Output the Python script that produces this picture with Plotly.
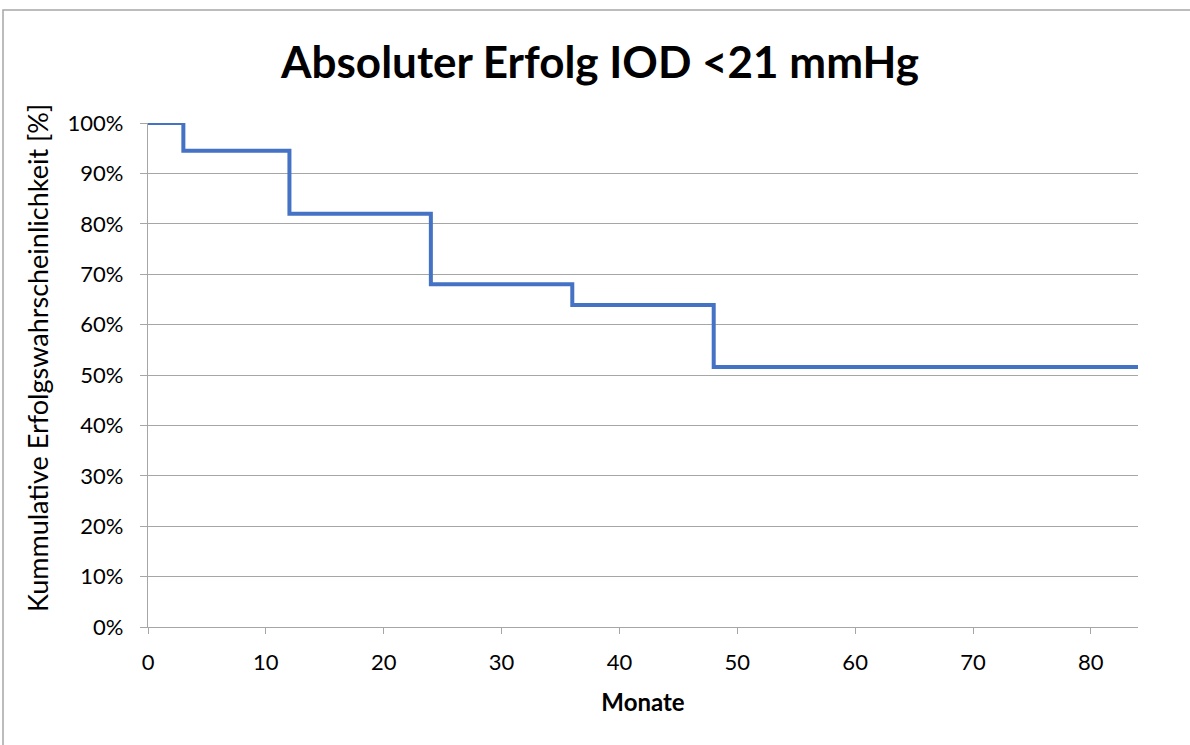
import plotly.graph_objects as go

# Kaplan-Meier style step curve: months vs. cumulative success probability
months = [0, 3, 12, 24, 36, 48, 84]
success = [1.00, 0.945, 0.82, 0.68, 0.639, 0.516, 0.516]

x_ticks = [0, 10, 20, 30, 40, 50, 60, 70, 80]
y_ticks = [0, 0.1, 0.2, 0.3, 0.4, 0.5, 0.6, 0.7, 0.8, 0.9, 1.0]
y_tick_text = [f"{int(round(v * 100))}%" for v in y_ticks]

W, H = 1190, 745
L, R, T, B = 148, 52, 123, 118
pw, ph = W - L - R, H - T - B

FONT = "Lato, Calibri, Carlito, sans-serif"
GRID = "#a6a6a6"


def px_x(p):
    return (p - L) / pw


def px_y(p):
    return (H - B - p) / ph


fig = go.Figure()
fig.add_trace(go.Scatter(
    x=months, y=success, mode="lines", line_shape="hv",
    line=dict(color="#4472c4", width=4), cliponaxis=False,
    hoverinfo="skip", showlegend=False,
))

fig.update_layout(
    width=W, height=H,
    margin=dict(l=L, r=R, t=T, b=B, autoexpand=False),
    paper_bgcolor="white", plot_bgcolor="white",
    font=dict(family=FONT, color="#000000", size=22),
    title=dict(
        text="<b>Absoluter Erfolg IOD &lt;21 mmHg</b>",
        x=(600 / W), xanchor="center", y=1 - 63 / H, yanchor="middle",
        font=dict(family=FONT, size=44, color="#000000"),
    ),
    xaxis=dict(
        range=[0, 84], tickvals=x_ticks, showgrid=False, zeroline=False,
        showline=True, linecolor=GRID, linewidth=1.3,
        ticks="outside", ticklen=6, tickcolor=GRID, tickwidth=1.3,
        tickfont=dict(size=22), ticklabelstandoff=9,
        title=dict(text="<b>Monate</b>", font=dict(size=24), standoff=20),
    ),
    yaxis=dict(
        range=[0, 1], tickvals=y_ticks, ticktext=y_tick_text,
        showgrid=True, gridcolor=GRID, gridwidth=1.3, zeroline=False,
        showline=True, linecolor=GRID, linewidth=1.3,
        ticks="outside", ticklen=7, tickcolor=GRID, tickwidth=1.3,
        tickfont=dict(size=22), ticklabelstandoff=12,
    ),
)

# Y-axis title, positioned on the chart area rather than the plot area
fig.add_annotation(
    text="Kummulative Erfolgswahrscheinlichkeit [%]",
    xref="paper", yref="paper", x=px_x(37), y=px_y(358),
    xanchor="center", yanchor="middle", textangle=-90, showarrow=False,
    font=dict(family=FONT, size=27, color="#000000"),
)

# Outer chart frame (runs off the right and bottom edges of the page)
fig.add_shape(
    type="rect", xref="paper", yref="paper",
    x0=px_x(3), x1=px_x(W + 10), y0=px_y(H + 10), y1=px_y(10),
    line=dict(color=GRID, width=1.5), fillcolor="rgba(0,0,0,0)", layer="below",
)

fig.write_html("out.html")
